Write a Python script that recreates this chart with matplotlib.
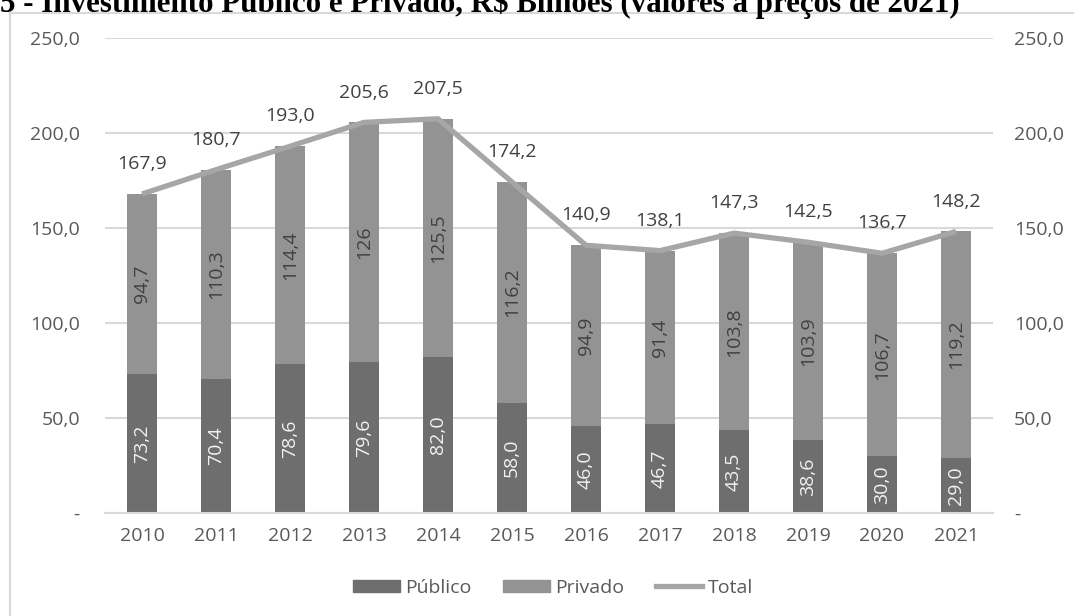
import matplotlib
matplotlib.use("Agg")
import matplotlib.pyplot as plt
from matplotlib.patches import Rectangle
from matplotlib.lines import Line2D
import numpy as np

anos = ["2010", "2011", "2012", "2013", "2014", "2015",
        "2016", "2017", "2018", "2019", "2020", "2021"]
publico = [73.2, 70.4, 78.6, 79.6, 82.0, 58.0, 46.0, 46.7, 43.5, 38.6, 30.0, 29.0]
privado = [94.7, 110.3, 114.4, 126, 125.5, 116.2, 94.9, 91.4, 103.8, 103.9, 106.7, 119.2]
total = [167.9, 180.7, 193.0, 205.6, 207.5, 174.2, 140.9, 138.1, 147.3, 142.5, 136.7, 148.2]
yticks = [0, 50, 100, 150, 200, 250]

COR_PUB = "#6e6e6e"
COR_PRIV = "#939393"
COR_TOTAL = "#a6a6a6"
COR_GRADE = "#d9d9d9"
COR_TEXTO = "#595959"

plt.rcParams["font.family"] = ["Open Sans", "DejaVu Sans"]


def virgula(v, fmt="{:.1f}"):
    return fmt.format(v).replace(".", ",")


def rotulo_eixo(v):
    return "-" if v == 0 else virgula(v)


fig = plt.figure(figsize=(10.74, 6.16), dpi=100)
ax = fig.add_axes([105 / 1074, 1 - 513 / 616, 888 / 1074, 475 / 616])

x = np.arange(len(anos))
largura = 0.41
ax.bar(x, publico, largura, color=COR_PUB, zorder=2)
ax.bar(x, privado, largura, bottom=publico, color=COR_PRIV, zorder=2)
ax.plot(x, total, color=COR_TOTAL, lw=3.8, zorder=3, solid_capstyle="butt")

# rotulos dentro das barras
for xi, p, q in zip(x, publico, privado):
    ax.text(xi, p / 2, virgula(p), rotation=90, ha="center", va="center",
            color="#f2f2f2", fontsize=14, zorder=4)
    ax.text(xi, p + q / 2, virgula(q, "{:g}"), rotation=90, ha="center",
            va="center", color="#404040", fontsize=14, zorder=4)
for xi, t in zip(x, total):
    ax.annotate(virgula(t), (xi, t), xytext=(0, 15), textcoords="offset points",
                ha="center", va="bottom", color="#404040", fontsize=14, zorder=4)

ax.set_xlim(-0.5, len(anos) - 0.5)
ax.set_ylim(0, 250)
ax.set_yticks(yticks)
ax.set_yticklabels([rotulo_eixo(v) for v in yticks])
ax.set_xticks(x)
ax.set_xticklabels(anos)
ax.tick_params(axis="y", length=0, pad=18, labelsize=14, labelcolor=COR_TEXTO)
ax.tick_params(axis="x", length=0, pad=10, labelsize=14, labelcolor=COR_TEXTO)
ax.grid(axis="y", color=COR_GRADE, lw=1.5, zorder=0)
for lado in ["top", "left", "right"]:
    ax.spines[lado].set_visible(False)
ax.spines["bottom"].set_color(COR_GRADE)
ax.spines["bottom"].set_linewidth(1.5)

ax2 = ax.twinx()
ax2.set_ylim(ax.get_ylim())
ax2.set_yticks(yticks)
ax2.set_yticklabels([rotulo_eixo(v) for v in yticks])
ax2.tick_params(axis="y", length=0, pad=15, labelsize=14, labelcolor=COR_TEXTO)
for lado in ["top", "left", "right", "bottom"]:
    ax2.spines[lado].set_visible(False)

handles = [Rectangle((0, 0), 1, 1, color=COR_PUB),
           Rectangle((0, 0), 1, 1, color=COR_PRIV),
           Line2D([0], [0], color=COR_TOTAL, lw=3.8)]
fig.legend(handles, ["Público", "Privado", "Total"], loc="center",
           bbox_to_anchor=(0.515, 1 - 588 / 616), ncol=3, frameon=False,
           fontsize=14, labelcolor=COR_TEXTO, handlelength=2.4, handleheight=0.6,
           handletextpad=0.3, columnspacing=1.6)

# moldura do grafico
fig.patches.append(Rectangle((10 / 1074, -0.1), 1.2, 1 - 13 / 616 + 0.1,
                             transform=fig.transFigure, fill=False,
                             edgecolor=COR_GRADE, lw=1.5))

fig.text(0.0, 1 - 12 / 616,
         "5 - Investimento Público e Privado, R$ Bilhões (valores a preços de 2021)",
         family="Liberation Serif", weight="bold", fontsize=22.3, color="black",
         ha="left", va="baseline")

fig.savefig("out.png", dpi=100, facecolor="white")
